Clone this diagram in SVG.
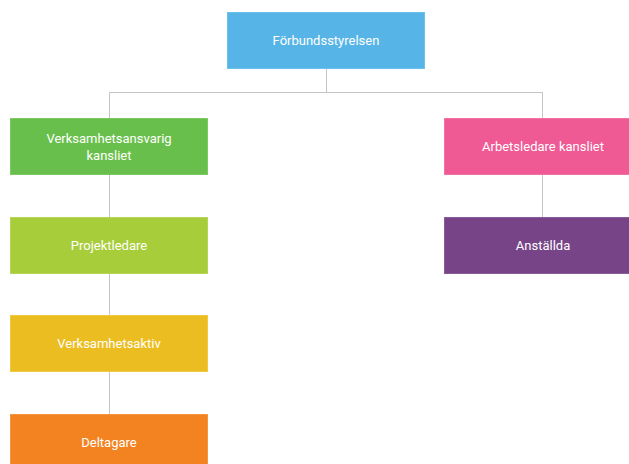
<svg xmlns="http://www.w3.org/2000/svg" width="629" height="464" viewBox="0 0 629 464">
<style>
.n rect{stroke-width:1;}
.n text{font-family:Roboto,"Liberation Sans",sans-serif;font-size:13px;fill:#ffffff;text-anchor:middle;dominant-baseline:central;}
.c line{stroke:#c4c4c4;stroke-width:1;}
</style>
<rect width="629" height="464" fill="#ffffff"/>
<g class="c" id="connectors">
<line x1="326.5" y1="68" x2="326.5" y2="92.5"/>
<line x1="109.5" y1="92.5" x2="543" y2="92.5"/>
<line x1="109.5" y1="92.5" x2="109.5" y2="118"/>
<line x1="542.5" y1="92.5" x2="542.5" y2="118"/>
<line x1="109.5" y1="174" x2="109.5" y2="217"/>
<line x1="109.5" y1="273" x2="109.5" y2="315"/>
<line x1="109.5" y1="371" x2="109.5" y2="414"/>
<line x1="542.5" y1="174" x2="542.5" y2="217"/>
</g>
<g class="n" id="forbundsstyrelsen">
<rect x="227.5" y="12.5" width="197" height="56" fill="#56b4e6" stroke="#6cc0ec"/>
<text x="326" y="40">Förbundsstyrelsen</text>
</g>
<g class="n" id="verksamhetsansvarig">
<rect x="10.5" y="118.5" width="197" height="56" fill="#69bf4b" stroke="#7cc862"/>
<text x="109" y="138">Verksamhetsansvarig</text>
<text x="109" y="155">kansliet</text>
</g>
<g class="n" id="projektledare">
<rect x="10.5" y="217.5" width="197" height="56" fill="#a8cd3a" stroke="#b6d556"/>
<text x="109" y="245">Projektledare</text>
</g>
<g class="n" id="verksamhetsaktiv">
<rect x="10.5" y="315.5" width="197" height="56" fill="#ecbd21" stroke="#f0c842"/>
<text x="109" y="343">Verksamhetsaktiv</text>
</g>
<g class="n" id="deltagare">
<rect x="10.5" y="414.5" width="197" height="56" fill="#f38321" stroke="#f59540"/>
<text x="109" y="442">Deltagare</text>
</g>
<g class="n" id="arbetsledare">
<rect x="444.5" y="118.5" width="197" height="56" fill="#ef5994" stroke="#f272a5"/>
<text x="543" y="146">Arbetsledare kansliet</text>
</g>
<g class="n" id="anstallda">
<rect x="444.5" y="217.5" width="197" height="56" fill="#774488" stroke="#895b99"/>
<text x="543" y="245">Anställda</text>
</g>
</svg>
